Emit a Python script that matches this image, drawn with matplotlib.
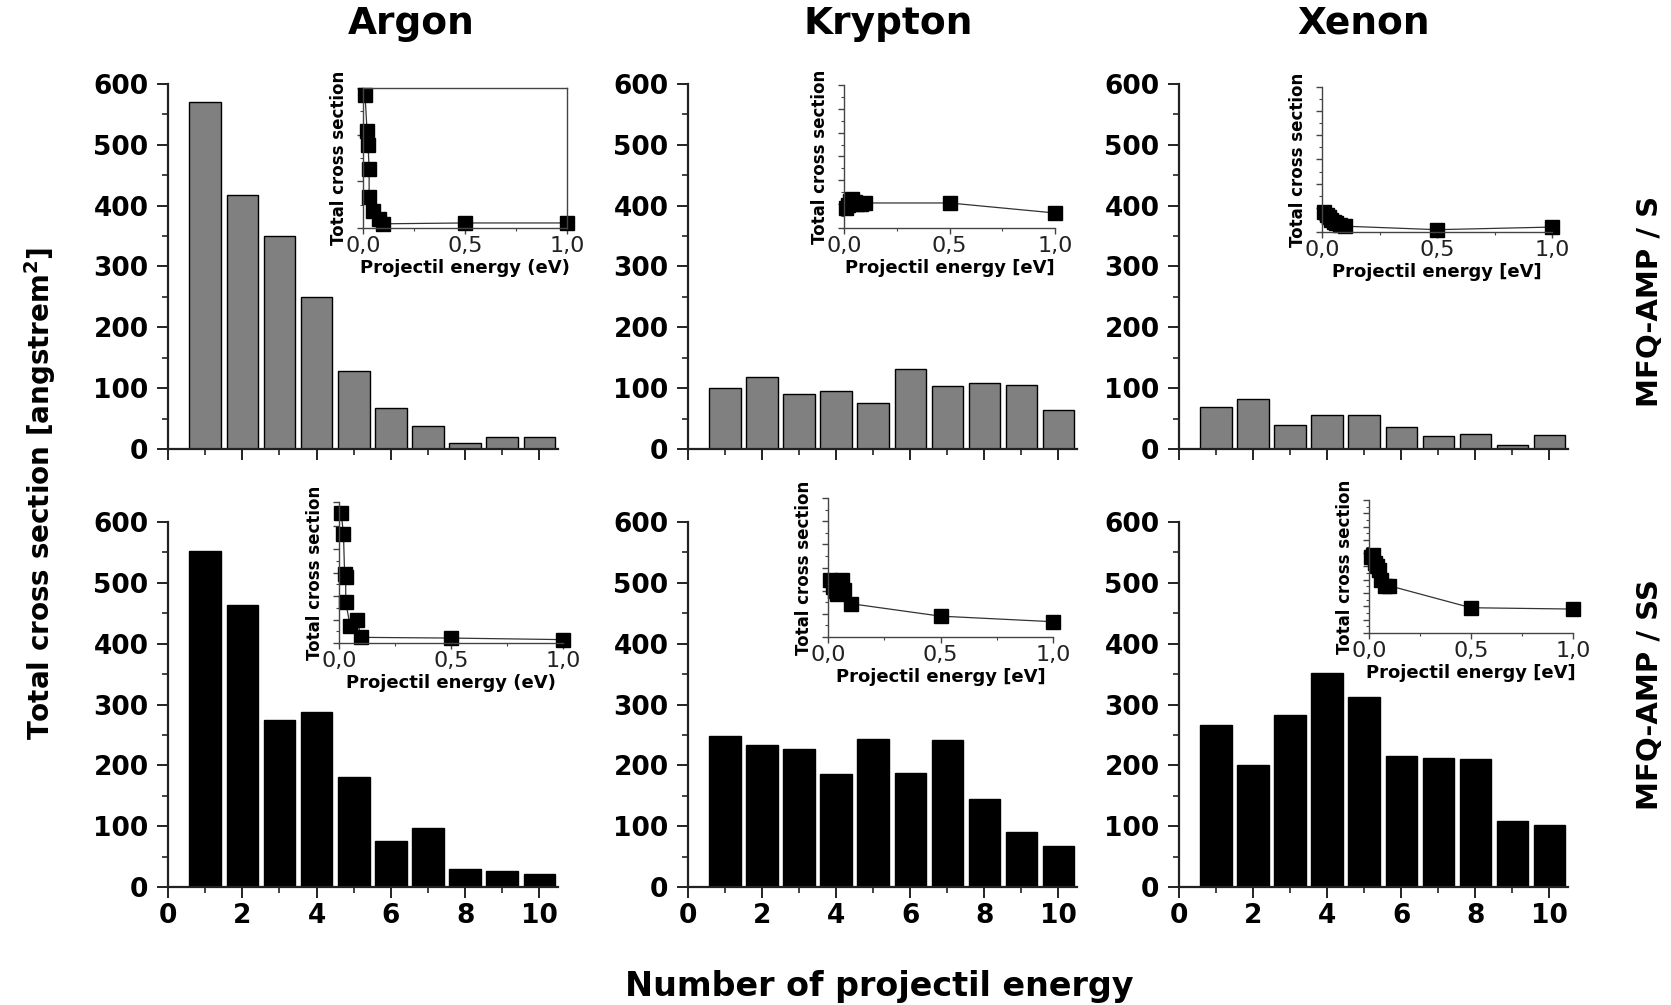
import numpy as np
import matplotlib
matplotlib.use('Agg')
from matplotlib import pyplot as plt
from matplotlib.ticker import MultipleLocator

plt.rcParams['font.family'] = 'DejaVu Sans'

# bar data: number of projectil energy 1..10
n = np.arange(1, 11)
argon_s = [570, 418, 350, 250, 128, 68, 38, 10, 20, 20]
krypton_s = [100, 119, 90, 96, 76, 132, 104, 109, 106, 64]
xenon_s = [69, 82, 39, 56, 56, 36, 21, 25, 7, 23]
argon_ss = [553, 463, 275, 288, 181, 76, 97, 29, 26, 22]
krypton_ss = [248, 233, 227, 186, 244, 187, 241, 145, 91, 67]
xenon_ss = [267, 200, 282, 351, 312, 215, 212, 210, 108, 102]

# inset data (energy in eV, cross section in arbitrary units)
argon_s_e = [0.01, 0.02, 0.025, 0.03, 0.03, 0.05, 0.08, 0.1, 0.5, 1.0]
argon_s_c = [0.95, 0.69, 0.59, 0.42, 0.22, 0.12, 0.065, 0.03, 0.036, 0.036]
krypton_s_e = [0.01, 0.02, 0.03, 0.04, 0.05, 0.06, 0.08, 0.1, 0.5, 1.0]
krypton_s_c = [0.14, 0.16, 0.19, 0.2, 0.18, 0.17, 0.17, 0.175, 0.175, 0.105]
xenon_s_e = [0.01, 0.02, 0.03, 0.04, 0.05, 0.06, 0.08, 0.1, 0.5, 1.0]
xenon_s_c = [0.14, 0.12, 0.10, 0.08, 0.07, 0.06, 0.05, 0.04, 0.016, 0.034]
argon_ss_e = [0.01, 0.02, 0.025, 0.03, 0.03, 0.05, 0.08, 0.1, 0.5, 1.0]
argon_ss_c = [0.92, 0.77, 0.49, 0.47, 0.29, 0.12, 0.16, 0.04, 0.035, 0.024]
krypton_ss_e = [0.01, 0.02, 0.03, 0.04, 0.05, 0.06, 0.07, 0.1, 0.5, 1.0]
krypton_ss_c = [0.41, 0.36, 0.33, 0.31, 0.40, 0.41, 0.34, 0.24, 0.15, 0.11]
xenon_ss_e = [0.01, 0.02, 0.03, 0.04, 0.05, 0.06, 0.08, 0.1, 0.5, 1.0]
xenon_ss_c = [0.57, 0.59, 0.53, 0.5, 0.47, 0.40, 0.35, 0.355, 0.19, 0.18]

inset_ticks = [0, 0.5, 1.0]
inset_ticklabels = ['0,0', '0,5', '1,0']
titles = ['Argon', 'Krypton', 'Xenon']
W, H = 1671, 1005

fig = plt.figure(figsize=(W / 100, H / 100), dpi=100)


def px_rect(x0, x1, ytop, ybot):
    return [x0 / W, 1 - ybot / H, (x1 - x0) / W, (ybot - ytop) / H]


def main_panel(rect, vals, color, xlabels):
    ax = fig.add_axes(rect)
    ax.bar(n, vals, width=0.85, color=color, edgecolor='black', linewidth=1.0)
    ax.set_xlim(0, 10.5)
    ax.set_ylim(0, 600)
    ax.spines['top'].set_visible(False)
    ax.spines['right'].set_visible(False)
    for s in ['left', 'bottom']:
        ax.spines[s].set_linewidth(1.6)
        ax.spines[s].set_color('#222222')
    ax.xaxis.set_major_locator(MultipleLocator(2))
    ax.xaxis.set_minor_locator(MultipleLocator(1))
    ax.yaxis.set_major_locator(MultipleLocator(100))
    ax.yaxis.set_minor_locator(MultipleLocator(50))
    ax.tick_params(which='major', length=8, width=1.4, labelsize=19, color='#222222')
    ax.tick_params(which='minor', length=4, width=1.2, color='#222222')
    ax.tick_params(axis='y', pad=6)
    for lab in ax.get_yticklabels() + ax.get_xticklabels():
        lab.set_fontweight('bold')
    if not xlabels:
        ax.set_xticklabels([])
    return ax


def inset(rect, ex, ec, unit, ystep, box):
    ax = fig.add_axes(rect)
    ax.plot(ex, ec, '-', color='#333333', lw=0.9)
    ax.plot(ex, ec, 's', color='black', ms=9.5, clip_on=False)
    ax.set_xlim(0, 1.0)
    ax.set_ylim(0, 1.0)
    if not box:
        ax.spines['top'].set_visible(False)
        ax.spines['right'].set_visible(False)
    for s in ax.spines.values():
        s.set_linewidth(1.0)
        s.set_color('#444444')
    ax.xaxis.set_minor_locator(MultipleLocator(0.25))
    ax.yaxis.set_major_locator(MultipleLocator(ystep))
    ax.yaxis.set_minor_locator(MultipleLocator(ystep / 2))
    ax.set_yticklabels([])
    ax.tick_params(which='major', length=4, width=1.0, pad=2, color='#444444')
    ax.tick_params(which='minor', length=2.5, width=0.8, color='#444444')
    ax.set_xticks(inset_ticks)
    ax.set_xticklabels(inset_ticklabels, fontsize=16, color='#222222')
    ax.set_xlabel('Projectil energy ' + unit, fontsize=13, fontweight='bold', labelpad=2)
    ax.set_ylabel('Total cross section', fontsize=12, fontweight='bold', labelpad=5)
    return ax


cols_x = [(168, 558), (688, 1077), (1179, 1568)]
title_x = [411, 888, 1364]
top_vals = [argon_s, krypton_s, xenon_s]
bot_vals = [argon_ss, krypton_ss, xenon_ss]

for i in range(3):
    x0, x1 = cols_x[i]
    main_panel(px_rect(x0, x1, 84, 449), top_vals[i], '#808080', False)
    main_panel(px_rect(x0, x1, 522, 887), bot_vals[i], 'black', True)
    fig.text(title_x[i] / W, 1 - 24 / H, titles[i], fontsize=27,
             fontweight='bold', ha='center', va='center')

inset(px_rect(363, 567, 88, 228), argon_s_e, argon_s_c, '(eV)', 1 / 3, True)
inset(px_rect(844, 1055, 85, 228), krypton_s_e, krypton_s_c, '[eV]', 1 / 6, False)
inset(px_rect(1322, 1552, 87, 232), xenon_s_e, xenon_s_c, '[eV]', 1 / 6, False)
inset(px_rect(339, 563, 502, 643), argon_ss_e, argon_ss_c, '(eV)', 1 / 6, False)
inset(px_rect(828, 1053, 498, 637), krypton_ss_e, krypton_ss_c, '[eV]', 1 / 6, False)
inset(px_rect(1369, 1573, 500, 633), xenon_ss_e, xenon_ss_c, '[eV]', 0.1, False)

fig.text(40 / W, 1 - 493 / H, 'Total cross section [angstrem$^\\mathbf{2}$]', rotation=90,
         fontsize=20, fontweight='bold', ha='center', va='center')
fig.text(879 / W, 1 - 986 / H, 'Number of projectil energy', fontsize=24,
         fontweight='bold', ha='center', va='center')
fig.text(1650 / W, 1 - 301 / H, 'MFQ-AMP / S', rotation=90, fontsize=21,
         fontweight='bold', ha='center', va='center')
fig.text(1650 / W, 1 - 695 / H, 'MFQ-AMP / SS', rotation=90, fontsize=21,
         fontweight='bold', ha='center', va='center')

fig.savefig('out.png', dpi=100)
